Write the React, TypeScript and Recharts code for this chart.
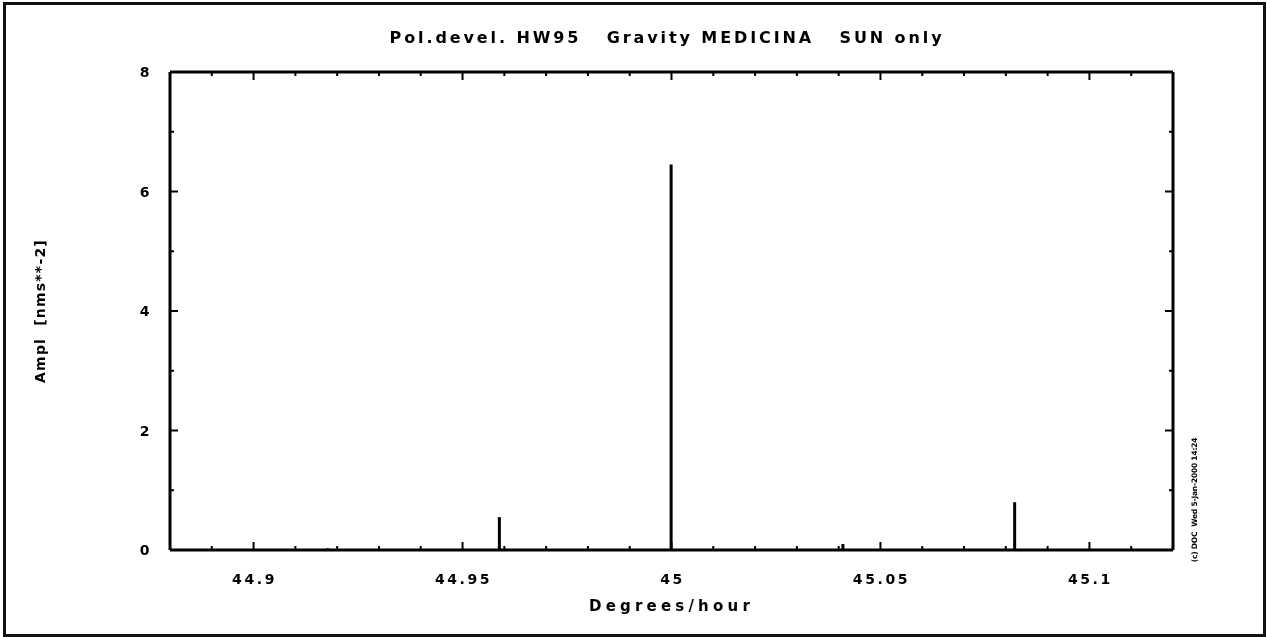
import React from 'react';
import { ComposedChart, Bar, XAxis, YAxis, Label } from 'recharts';

// Spectral lines of the solar-only degree-3 group around 45 deg/h
const FREQUENCIES = [44.9178, 44.9589, 45.0, 45.0411, 45.0822];
const AMPLITUDES = [0.03, 0.55, 6.45, 0.1, 0.8];

const X_DOMAIN = [44.88, 45.12];
const X_TICKS = [
  44.89, 44.9, 44.91, 44.92, 44.93, 44.94, 44.95, 44.96, 44.97, 44.98, 44.99,
  45.0, 45.01, 45.02, 45.03, 45.04, 45.05, 45.06, 45.07, 45.08, 45.09, 45.1, 45.11,
];
const X_LABELS: Record<string, string> = {
  '44.90': '44.9',
  '44.95': '44.95',
  '45.00': '45',
  '45.05': '45.05',
  '45.10': '45.1',
};

const Y_DOMAIN = [0, 8];
const Y_TICKS = [0, 1, 2, 3, 4, 5, 6, 7, 8];
const Y_LABELS: Record<string, string> = { '0': '0', '2': '2', '4': '4', '6': '6', '8': '8' };

const TITLE = 'Pol.devel. HW95   Gravity MEDICINA   SUN only';
const X_TITLE = 'Degrees/hour';
// non-breaking spaces keep the double gap in the rotated label
const Y_TITLE = 'Ampl\u00a0\u00a0[nms**-2]';
const STAMP = '(c) DOC  Wed 5-Jan-2000 14:24';

const data = FREQUENCIES.map((f, i) => ({ freq: f, ampl: AMPLITUDES[i] }));

const FONT = '"DejaVu Sans", Verdana, sans-serif';
const INK = '#000';
const MAJOR = 8;
const MINOR = 4;

const tickText = {
  fontFamily: FONT,
  fontWeight: 700,
  fontSize: 14,
  letterSpacing: 2.6,
  fill: INK,
};

// ticks point into the plot on all four sides
function BottomTick(props: any) {
  const { x, y, payload } = props;
  const label = X_LABELS[Number(payload.value).toFixed(2)];
  return (
    <g>
      <line x1={x} x2={x} y1={y} y2={y - (label ? MAJOR : MINOR)} stroke={INK} strokeWidth={2} />
      {label && (
        <text x={x + 1} y={y + 34} textAnchor="middle" style={tickText}>
          {label}
        </text>
      )}
    </g>
  );
}

function TopTick(props: any) {
  const { x, y, payload } = props;
  const label = X_LABELS[Number(payload.value).toFixed(2)];
  return <line x1={x} x2={x} y1={y} y2={y + (label ? MAJOR : MINOR)} stroke={INK} strokeWidth={2} />;
}

function LeftTick(props: any) {
  const { x, y, payload } = props;
  const label = Y_LABELS[String(payload.value)];
  return (
    <g>
      <line x1={x} x2={x + (label ? MAJOR : MINOR)} y1={y} y2={y} stroke={INK} strokeWidth={2} />
      {label && (
        <text x={x - 24} y={y + 5} textAnchor="middle" style={tickText}>
          {label}
        </text>
      )}
    </g>
  );
}

function RightTick(props: any) {
  const { x, y, payload } = props;
  const label = Y_LABELS[String(payload.value)];
  return <line x1={x} x2={x - (label ? MAJOR : MINOR)} y1={y} y2={y} stroke={INK} strokeWidth={2} />;
}

const axisLine = { stroke: INK, strokeWidth: 3 };

export default function App() {
  return (
    <div
      style={{
        position: 'fixed',
        left: 0,
        top: 0,
        width: 1267,
        height: 637,
        background: '#fff',
        fontFamily: FONT,
      }}
    >
      {/* page frame */}
      <div
        style={{
          position: 'absolute',
          left: 3,
          top: 2,
          width: 1257,
          height: 629,
          border: '3px solid #111',
        }}
      />
      <div
        style={{
          position: 'absolute',
          left: 0,
          top: 28,
          width: 1334,
          textAlign: 'center',
          fontSize: 16,
          fontWeight: 700,
          letterSpacing: 2.9,
          whiteSpace: 'pre',
          color: INK,
        }}
      >
        {TITLE}
      </div>
      <ComposedChart
        width={1267}
        height={637}
        data={data}
        margin={{ top: 0, right: 0, bottom: 0, left: 0 }}
        style={{ position: 'absolute', left: 0, top: 0 }}
      >
        <XAxis
          xAxisId="bottom"
          dataKey="freq"
          type="number"
          domain={X_DOMAIN}
          ticks={X_TICKS}
          interval={0}
          allowDataOverflow
          height={87}
          tickSize={0}
          tickMargin={0}
          tickLine={false}
          axisLine={axisLine}
          tick={<BottomTick />}
        >
          <Label
            value={X_TITLE}
            position="insideTop"
            offset={50}
            style={{ ...tickText, fontSize: 15, letterSpacing: 4.2 }}
          />
        </XAxis>
        <XAxis
          xAxisId="top"
          orientation="top"
          dataKey="freq"
          type="number"
          domain={X_DOMAIN}
          ticks={X_TICKS}
          interval={0}
          allowDataOverflow
          height={72}
          tickSize={0}
          tickMargin={0}
          tickLine={false}
          axisLine={axisLine}
          tick={<TopTick />}
        />
        <YAxis
          yAxisId="left"
          type="number"
          domain={Y_DOMAIN}
          ticks={Y_TICKS}
          interval={0}
          allowDataOverflow
          width={170}
          tickSize={0}
          tickMargin={0}
          tickLine={false}
          axisLine={axisLine}
          tick={<LeftTick />}
        >
          <Label
            value={Y_TITLE}
            angle={-90}
            position="insideLeft"
            offset={40}
            style={{ ...tickText, fontSize: 14, letterSpacing: 1.2, textAnchor: 'middle' }}
          />
        </YAxis>
        <YAxis
          yAxisId="right"
          orientation="right"
          type="number"
          domain={Y_DOMAIN}
          ticks={Y_TICKS}
          interval={0}
          allowDataOverflow
          width={94}
          tickSize={0}
          tickMargin={0}
          tickLine={false}
          axisLine={axisLine}
          tick={<RightTick />}
        />
        <Bar
          xAxisId="bottom"
          yAxisId="left"
          dataKey="ampl"
          fill={INK}
          barSize={3}
          isAnimationActive={false}
        />
      </ComposedChart>
      {/* plot stamp, written upward beside the right axis */}
      <div
        style={{
          position: 'absolute',
          left: 1195 - 70,
          top: 500 - 6,
          width: 140,
          height: 12,
          lineHeight: '12px',
          textAlign: 'center',
          fontSize: 7.5,
          fontWeight: 700,
          letterSpacing: -0.2,
          whiteSpace: 'pre',
          transform: 'rotate(-90deg)',
          color: INK,
        }}
      >
        {STAMP}
      </div>
    </div>
  );
}
